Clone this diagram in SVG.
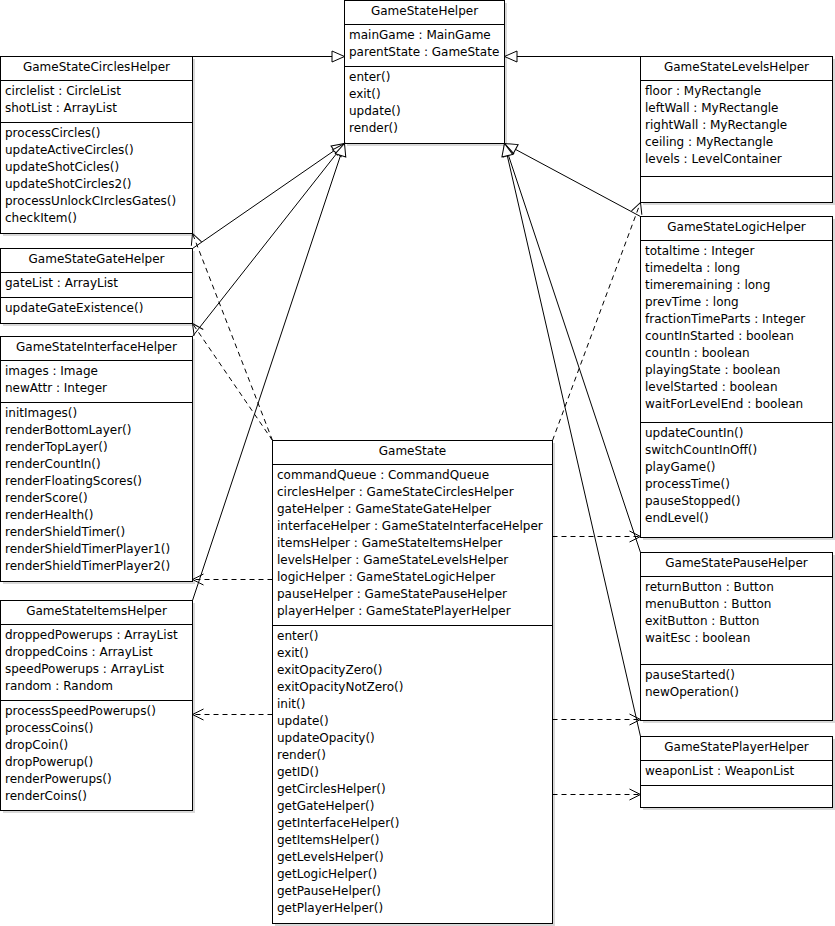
<svg xmlns="http://www.w3.org/2000/svg" width="835" height="926" viewBox="0 0 835 926">
<defs>
<style>
.box{fill:#fff;stroke:#000;stroke-width:1}
.sh{fill:#d8d8d8}
.dv{stroke:#000;stroke-width:1}
text{font-family:"DejaVu Sans","Verdana",sans-serif;font-size:12px;fill:#000}
.t{text-anchor:middle}
.gen{fill:none;stroke:#000;stroke-width:1}
.dep{fill:none;stroke:#000;stroke-width:1;stroke-dasharray:5,4}
</style>
<marker id="tri" markerUnits="userSpaceOnUse" markerWidth="16" markerHeight="14" refX="14" refY="7" orient="auto"><path d="M1.5,1.5 L14,7 L1.5,12.5 Z" fill="#fff" stroke="#000" stroke-width="1"/></marker>
<marker id="open" markerUnits="userSpaceOnUse" markerWidth="14" markerHeight="14" refX="12" refY="7" orient="auto"><path d="M1,1.5 L12,7 L1,12.5" fill="none" stroke="#000" stroke-width="1"/></marker>
</defs>
<rect width="835" height="926" fill="#fff"/>

<g id="GameStateHelper">
<rect class="sh" x="347" y="3" width="160" height="143"/>
<rect class="box" x="344.5" y="0.5" width="160" height="143"/>
<line class="dv" x1="344.5" y1="24.5" x2="504.5" y2="24.5"/>
<line class="dv" x1="344.5" y1="66.5" x2="504.5" y2="66.5"/>
<text class="t" x="424.5" y="15">GameStateHelper</text>
<text x="349" y="39">mainGame : MainGame</text>
<text x="349" y="56">parentState : GameState</text>
<text x="349" y="81">enter()</text>
<text x="349" y="98">exit()</text>
<text x="349" y="115">update()</text>
<text x="349" y="132">render()</text>
</g>

<g id="GameStateCirclesHelper">
<rect class="sh" x="3" y="59" width="192" height="177"/>
<rect class="box" x="0.5" y="56.5" width="192" height="177"/>
<line class="dv" x1="0.5" y1="80.5" x2="192.5" y2="80.5"/>
<line class="dv" x1="0.5" y1="122.5" x2="192.5" y2="122.5"/>
<text class="t" x="96.5" y="71">GameStateCirclesHelper</text>
<text x="5" y="95">circlelist : CircleList</text>
<text x="5" y="112">shotList : ArrayList</text>
<text x="5" y="137">processCircles()</text>
<text x="5" y="154">updateActiveCircles()</text>
<text x="5" y="171">updateShotCicles()</text>
<text x="5" y="188">updateShotCircles2()</text>
<text x="5" y="205">processUnlockCIrclesGates()</text>
<text x="5" y="222">checkItem()</text>
</g>

<g id="GameStateGateHelper">
<rect class="sh" x="3" y="251" width="192" height="75"/>
<rect class="box" x="0.5" y="248.5" width="192" height="75"/>
<line class="dv" x1="0.5" y1="272.5" x2="192.5" y2="272.5"/>
<line class="dv" x1="0.5" y1="297.5" x2="192.5" y2="297.5"/>
<text class="t" x="96.5" y="263">GameStateGateHelper</text>
<text x="5" y="287">gateList : ArrayList</text>
<text x="5" y="312">updateGateExistence()</text>
</g>

<g id="GameStateInterfaceHelper">
<rect class="sh" x="3" y="339" width="192" height="245"/>
<rect class="box" x="0.5" y="336.5" width="192" height="245"/>
<line class="dv" x1="0.5" y1="360.5" x2="192.5" y2="360.5"/>
<line class="dv" x1="0.5" y1="402.5" x2="192.5" y2="402.5"/>
<text class="t" x="96.5" y="351">GameStateInterfaceHelper</text>
<text x="5" y="375">images : Image</text>
<text x="5" y="392">newAttr : Integer</text>
<text x="5" y="417">initImages()</text>
<text x="5" y="434">renderBottomLayer()</text>
<text x="5" y="451">renderTopLayer()</text>
<text x="5" y="468">renderCountIn()</text>
<text x="5" y="485">renderFloatingScores()</text>
<text x="5" y="502">renderScore()</text>
<text x="5" y="519">renderHealth()</text>
<text x="5" y="536">renderShieldTimer()</text>
<text x="5" y="553">renderShieldTimerPlayer1()</text>
<text x="5" y="570">renderShieldTimerPlayer2()</text>
</g>

<g id="GameStateItemsHelper">
<rect class="sh" x="3" y="603" width="192" height="210"/>
<rect class="box" x="0.5" y="600.5" width="192" height="210"/>
<line class="dv" x1="0.5" y1="624.5" x2="192.5" y2="624.5"/>
<line class="dv" x1="0.5" y1="700.5" x2="192.5" y2="700.5"/>
<text class="t" x="96.5" y="615">GameStateItemsHelper</text>
<text x="5" y="639">droppedPowerups : ArrayList</text>
<text x="5" y="656">droppedCoins : ArrayList</text>
<text x="5" y="673">speedPowerups : ArrayList</text>
<text x="5" y="690">random : Random</text>
<text x="5" y="715">processSpeedPowerups()</text>
<text x="5" y="732">processCoins()</text>
<text x="5" y="749">dropCoin()</text>
<text x="5" y="766">dropPowerup()</text>
<text x="5" y="783">renderPowerups()</text>
<text x="5" y="800">renderCoins()</text>
</g>

<g id="GameState">
<rect class="sh" x="275" y="443" width="280" height="483"/>
<rect class="box" x="272.5" y="440.5" width="280" height="483"/>
<line class="dv" x1="272.5" y1="464.5" x2="552.5" y2="464.5"/>
<line class="dv" x1="272.5" y1="625.5" x2="552.5" y2="625.5"/>
<text class="t" x="412.5" y="455">GameState</text>
<text x="277" y="479">commandQueue : CommandQueue</text>
<text x="277" y="496">circlesHelper : GameStateCirclesHelper</text>
<text x="277" y="513">gateHelper : GameStateGateHelper</text>
<text x="277" y="530">interfaceHelper : GameStateInterfaceHelper</text>
<text x="277" y="547">itemsHelper : GameStateItemsHelper</text>
<text x="277" y="564">levelsHelper : GameStateLevelsHelper</text>
<text x="277" y="581">logicHelper : GameStateLogicHelper</text>
<text x="277" y="598">pauseHelper : GameStatePauseHelper</text>
<text x="277" y="615">playerHelper : GameStatePlayerHelper</text>
<text x="277" y="640">enter()</text>
<text x="277" y="657">exit()</text>
<text x="277" y="674">exitOpacityZero()</text>
<text x="277" y="691">exitOpacityNotZero()</text>
<text x="277" y="708">init()</text>
<text x="277" y="725">update()</text>
<text x="277" y="742">updateOpacity()</text>
<text x="277" y="759">render()</text>
<text x="277" y="776">getID()</text>
<text x="277" y="793">getCirclesHelper()</text>
<text x="277" y="810">getGateHelper()</text>
<text x="277" y="827">getInterfaceHelper()</text>
<text x="277" y="844">getItemsHelper()</text>
<text x="277" y="861">getLevelsHelper()</text>
<text x="277" y="878">getLogicHelper()</text>
<text x="277" y="895">getPauseHelper()</text>
<text x="277" y="912">getPlayerHelper()</text>
</g>

<g id="GameStateLevelsHelper">
<rect class="sh" x="643" y="59" width="192" height="146"/>
<rect class="box" x="640.5" y="56.5" width="192" height="146"/>
<line class="dv" x1="640.5" y1="80.5" x2="832.5" y2="80.5"/>
<line class="dv" x1="640.5" y1="176.5" x2="832.5" y2="176.5"/>
<text class="t" x="736.5" y="71">GameStateLevelsHelper</text>
<text x="645" y="95">floor : MyRectangle</text>
<text x="645" y="112">leftWall : MyRectangle</text>
<text x="645" y="129">rightWall : MyRectangle</text>
<text x="645" y="146">ceiling : MyRectangle</text>
<text x="645" y="163">levels : LevelContainer</text>
</g>

<g id="GameStateLogicHelper">
<rect class="sh" x="643" y="219" width="192" height="321"/>
<rect class="box" x="640.5" y="216.5" width="192" height="321"/>
<line class="dv" x1="640.5" y1="240.5" x2="832.5" y2="240.5"/>
<line class="dv" x1="640.5" y1="422.5" x2="832.5" y2="422.5"/>
<text class="t" x="736.5" y="231">GameStateLogicHelper</text>
<text x="645" y="255">totaltime : Integer</text>
<text x="645" y="272">timedelta : long</text>
<text x="645" y="289">timeremaining : long</text>
<text x="645" y="306">prevTime : long</text>
<text x="645" y="323">fractionTimeParts : Integer</text>
<text x="645" y="340">countInStarted : boolean</text>
<text x="645" y="357">countIn : boolean</text>
<text x="645" y="374">playingState : boolean</text>
<text x="645" y="391">levelStarted : boolean</text>
<text x="645" y="408">waitForLevelEnd : boolean</text>
<text x="645" y="437">updateCountIn()</text>
<text x="645" y="454">switchCountInOff()</text>
<text x="645" y="471">playGame()</text>
<text x="645" y="488">processTime()</text>
<text x="645" y="505">pauseStopped()</text>
<text x="645" y="522">endLevel()</text>
</g>

<g id="GameStatePauseHelper">
<rect class="sh" x="643" y="555" width="192" height="168"/>
<rect class="box" x="640.5" y="552.5" width="192" height="168"/>
<line class="dv" x1="640.5" y1="576.5" x2="832.5" y2="576.5"/>
<line class="dv" x1="640.5" y1="664.5" x2="832.5" y2="664.5"/>
<text class="t" x="736.5" y="567">GameStatePauseHelper</text>
<text x="645" y="591">returnButton : Button</text>
<text x="645" y="608">menuButton : Button</text>
<text x="645" y="625">exitButton : Button</text>
<text x="645" y="642">waitEsc : boolean</text>
<text x="645" y="679">pauseStarted()</text>
<text x="645" y="696">newOperation()</text>
</g>

<g id="GameStatePlayerHelper">
<rect class="sh" x="643" y="739" width="192" height="71"/>
<rect class="box" x="640.5" y="736.5" width="192" height="71"/>
<line class="dv" x1="640.5" y1="760.5" x2="832.5" y2="760.5"/>
<line class="dv" x1="640.5" y1="785.5" x2="832.5" y2="785.5"/>
<text class="t" x="736.5" y="751">GameStatePlayerHelper</text>
<text x="645" y="775">weaponList : WeaponList</text>
</g>

<g id="connectors">
<path class="gen" d="M192.5,56.5 L344.5,56.5" marker-end="url(#tri)"/>
<path class="gen" d="M640.5,56.5 L504.5,56.5" marker-end="url(#tri)"/>
<path class="gen" d="M192.5,248.5 L344.5,143.5" marker-end="url(#tri)"/>
<path class="gen" d="M192.5,336.5 L344.5,143.5" marker-end="url(#tri)"/>
<path class="gen" d="M192.5,600.5 L344.5,143.5" marker-end="url(#tri)"/>
<path class="gen" d="M640.5,216.5 L504.5,143.5" marker-end="url(#tri)"/>
<path class="gen" d="M640.5,552.5 L504.5,143.5" marker-end="url(#tri)"/>
<path class="gen" d="M640.5,736.5 L504.5,143.5" marker-end="url(#tri)"/>
<path class="dep" d="M272.5,440.5 L192.5,233.5" marker-end="url(#open)"/>
<path class="dep" d="M272.5,440.5 L192.5,323.5" marker-end="url(#open)"/>
<path class="dep" d="M272.5,579.5 L192.5,579.5" marker-end="url(#open)"/>
<path class="dep" d="M272.5,714.5 L192.5,714.5" marker-end="url(#open)"/>
<path class="dep" d="M552.5,440.5 L640.5,202.5" marker-end="url(#open)"/>
<path class="dep" d="M552.5,536.5 L640.5,536.5" marker-end="url(#open)"/>
<path class="dep" d="M552.5,719.5 L640.5,719.5" marker-end="url(#open)"/>
<path class="dep" d="M552.5,794.5 L640.5,794.5" marker-end="url(#open)"/>
</g>
</svg>
